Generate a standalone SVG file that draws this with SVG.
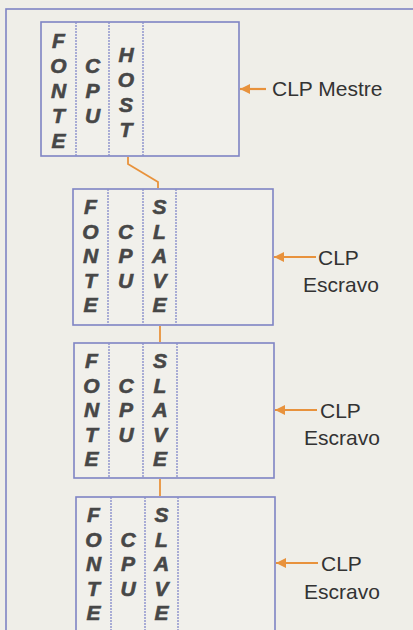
<svg xmlns="http://www.w3.org/2000/svg" width="413" height="630" viewBox="0 0 413 630">
<defs>
<style>
.bg{fill:#efeee8}
.frame{fill:none;stroke:#7f84c4;stroke-width:1.6}
.box{fill:#f1f0eb;stroke:#7f84c4;stroke-width:1.6}
.div{stroke:#8a8fcc;stroke-width:1.4;stroke-dasharray:2 1}
.lt{font-family:"Liberation Sans",Arial,sans-serif;font-weight:bold;font-style:italic;font-size:21px;fill:#474747;stroke:#474747;stroke-width:0.6;text-anchor:middle}
.lbl{font-family:"Liberation Sans",Arial,sans-serif;font-size:21px;fill:#333333}
.wire{fill:none;stroke:#e8923c;stroke-width:1.8}
.arr{stroke:#e8923c;stroke-width:2.2}
</style>
<marker id="ah" viewBox="0 0 10 10" refX="10" refY="5" markerWidth="11" markerHeight="10" markerUnits="userSpaceOnUse" orient="auto">
<path d="M0,0 L10,5 L0,10 z" fill="#e8923c"/>
</marker>
</defs>
<rect class="bg" x="0" y="0" width="413" height="630"/>
<rect class="frame" x="6" y="9" width="420" height="640"/>

<g id="master">
<rect class="box" x="41" y="22" width="198" height="134"/>
<line class="div" x1="76" y1="22" x2="76" y2="156"/>
<line class="div" x1="109" y1="22" x2="109" y2="156"/>
<line class="div" x1="143" y1="22" x2="143" y2="156"/>
<text class="lt" x="58.5" y="48">F</text><text class="lt" x="58.5" y="73">O</text><text class="lt" x="58.5" y="98">N</text><text class="lt" x="58.5" y="123">T</text><text class="lt" x="58.5" y="148">E</text>
<text class="lt" x="92.5" y="73">C</text><text class="lt" x="92.5" y="98">P</text><text class="lt" x="92.5" y="123">U</text>
<text class="lt" x="126" y="62">H</text><text class="lt" x="126" y="87">O</text><text class="lt" x="126" y="112">S</text><text class="lt" x="126" y="137">T</text>
<line class="arr" x1="266" y1="89" x2="240" y2="89" marker-end="url(#ah)"/>
<text class="lbl" x="272" y="96">CLP Mestre</text>
</g>

<g id="slave1">
<rect class="box" x="73" y="189" width="200" height="136"/>
<line class="div" x1="108" y1="189" x2="108" y2="325"/>
<line class="div" x1="143" y1="189" x2="143" y2="325"/>
<line class="div" x1="176" y1="189" x2="176" y2="325"/>
<text class="lt" x="90.5" y="214">F</text><text class="lt" x="90.5" y="238.5">O</text><text class="lt" x="90.5" y="263">N</text><text class="lt" x="90.5" y="287.5">T</text><text class="lt" x="90.5" y="312">E</text>
<text class="lt" x="125.5" y="238.5">C</text><text class="lt" x="125.5" y="263">P</text><text class="lt" x="125.5" y="287.5">U</text>
<text class="lt" x="159.5" y="214">S</text><text class="lt" x="159.5" y="238.5">L</text><text class="lt" x="159.5" y="263">A</text><text class="lt" x="159.5" y="287.5">V</text><text class="lt" x="159.5" y="312">E</text>
<line class="arr" x1="316" y1="257" x2="274" y2="257" marker-end="url(#ah)"/>
<text class="lbl" x="318" y="265">CLP</text>
<text class="lbl" x="341" y="292" text-anchor="middle">Escravo</text>
</g>

<g id="slave2">
<rect class="box" x="74" y="343" width="200" height="135"/>
<line class="div" x1="109" y1="343" x2="109" y2="478"/>
<line class="div" x1="143" y1="343" x2="143" y2="478"/>
<line class="div" x1="177" y1="343" x2="177" y2="478"/>
<text class="lt" x="91.5" y="368">F</text><text class="lt" x="91.5" y="392.5">O</text><text class="lt" x="91.5" y="417">N</text><text class="lt" x="91.5" y="441.5">T</text><text class="lt" x="91.5" y="466">E</text>
<text class="lt" x="126" y="392.5">C</text><text class="lt" x="126" y="417">P</text><text class="lt" x="126" y="441.5">U</text>
<text class="lt" x="160" y="368">S</text><text class="lt" x="160" y="392.5">L</text><text class="lt" x="160" y="417">A</text><text class="lt" x="160" y="441.5">V</text><text class="lt" x="160" y="466">E</text>
<line class="arr" x1="317" y1="410" x2="275" y2="410" marker-end="url(#ah)"/>
<text class="lbl" x="320" y="418">CLP</text>
<text class="lbl" x="342" y="445" text-anchor="middle">Escravo</text>
</g>

<g id="slave3">
<rect class="box" x="76" y="497" width="199" height="145"/>
<line class="div" x1="111" y1="497" x2="111" y2="642"/>
<line class="div" x1="145" y1="497" x2="145" y2="642"/>
<line class="div" x1="178" y1="497" x2="178" y2="642"/>
<text class="lt" x="93.5" y="522">F</text><text class="lt" x="93.5" y="546.5">O</text><text class="lt" x="93.5" y="571">N</text><text class="lt" x="93.5" y="595.5">T</text><text class="lt" x="93.5" y="620">E</text>
<text class="lt" x="128" y="546.5">C</text><text class="lt" x="128" y="571">P</text><text class="lt" x="128" y="595.5">U</text>
<text class="lt" x="161.5" y="522">S</text><text class="lt" x="161.5" y="546.5">L</text><text class="lt" x="161.5" y="571">A</text><text class="lt" x="161.5" y="595.5">V</text><text class="lt" x="161.5" y="620">E</text>
<line class="arr" x1="318" y1="563" x2="276" y2="563" marker-end="url(#ah)"/>
<text class="lbl" x="321" y="571">CLP</text>
<text class="lbl" x="342" y="599" text-anchor="middle">Escravo</text>
</g>

<g id="connectors">
<polyline class="wire" points="128,157 128,164 158,182 158,188"/>
<line class="wire" x1="160" y1="326" x2="160" y2="342"/>
<line class="wire" x1="160" y1="479" x2="160" y2="496"/>
</g>
</svg>
